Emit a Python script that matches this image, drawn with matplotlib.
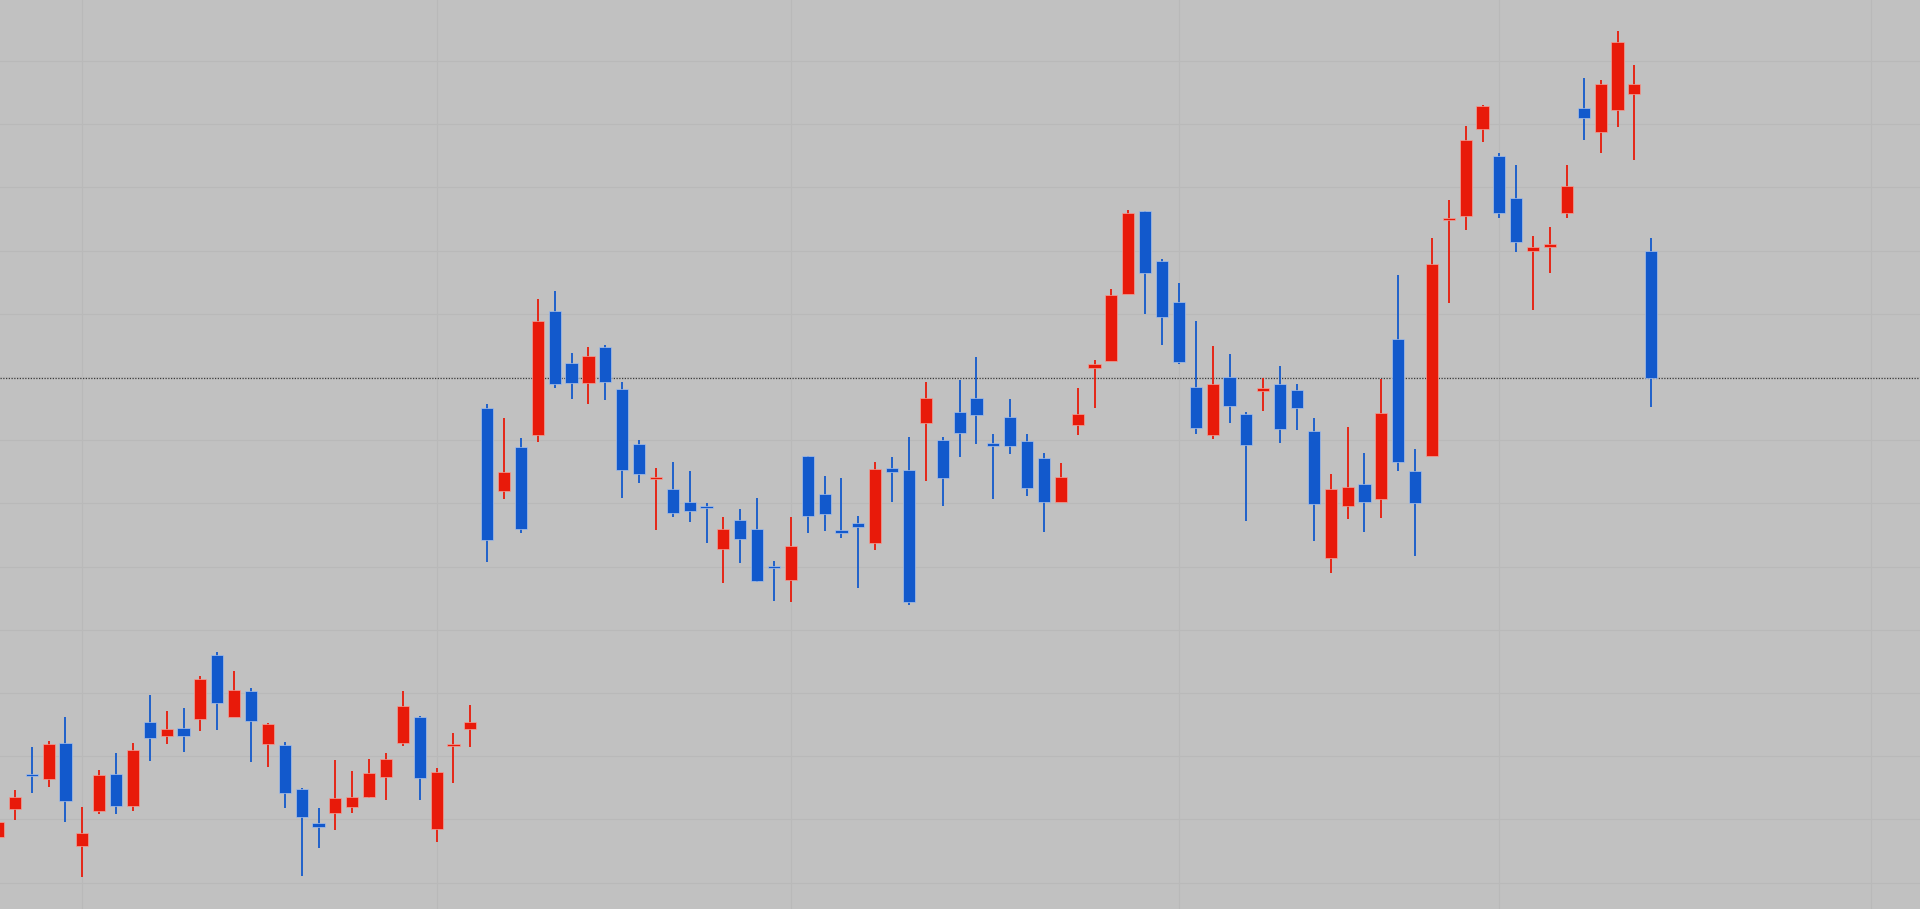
import numpy as np
import matplotlib
matplotlib.use("Agg")
import matplotlib.pyplot as plt

BG_COLOR = "#c1c1c1"
UP_COLOR = "#e81a0a"
DOWN_COLOR = "#1259cc"
UP_EDGE = "#f2a097"
DOWN_EDGE = "#a9c0e8"
GRID_COLOR = "#b9b9b9"

# daily OHLC (arbitrary price units)
opens = [163, 191, 225, 221, 257, 154, 189, 226, 194, 278,
         264, 272, 281, 345, 283, 309, 256, 255, 211, 177,
         187, 193, 203, 223, 257, 283, 171, 254, 271, 592,
         509, 553, 565, 689, 637, 617, 653, 611, 556, 521,
         511, 498, 494, 451, 480, 471, 433, 420, 544, 506,
         470, 477, 457, 532, 530, 577, 560, 588, 602, 557,
         583, 559, 542, 498, 575, 632, 639, 706, 789, 739,
         698, 613, 565, 623, 586, 609, 616, 610, 569, 442,
         494, 516, 501, 661, 529, 544, 780, 784, 871, 844,
         802, 749, 753, 787, 892, 868, 890, 906, 749]
highs = [183, 210, 253, 259, 283, 193, 230, 247, 257, 305,
         289, 292, 324, 348, 329, 312, 277, 258, 212, 192,
         240, 229, 241, 247, 309, 284, 232, 267, 295, 596,
         582, 562, 701, 709, 647, 653, 655, 618, 560, 532,
         538, 529, 497, 483, 491, 502, 439, 483, 544, 524,
         522, 484, 538, 543, 563, 618, 563, 620, 643, 566,
         601, 566, 547, 537, 612, 640, 711, 790, 789, 741,
         717, 679, 654, 646, 588, 622, 634, 616, 582, 526,
         573, 547, 621, 725, 551, 762, 800, 874, 895, 847,
         835, 764, 773, 835, 922, 920, 969, 935, 762]
lows = [158, 180, 207, 213, 178, 123, 186, 186, 189, 239,
        256, 248, 269, 270, 283, 238, 233, 192, 124, 152,
        170, 187, 202, 200, 254, 200, 158, 217, 253, 438,
        501, 467, 558, 612, 601, 596, 600, 502, 517, 470,
        483, 478, 457, 417, 437, 418, 399, 398, 467, 469,
        462, 412, 450, 498, 395, 519, 494, 543, 556, 501,
        546, 504, 468, 498, 565, 592, 639, 706, 686, 655,
        636, 566, 561, 577, 479, 589, 557, 570, 459, 427,
        481, 468, 482, 529, 444, 544, 697, 770, 858, 782,
        748, 690, 727, 782, 860, 847, 873, 840, 593]
closes = [178, 203, 224, 256, 199, 167, 225, 194, 250, 262,
          271, 264, 321, 297, 310, 279, 276, 207, 183, 173,
          202, 203, 227, 241, 294, 222, 228, 255, 278, 460,
          528, 471, 679, 616, 617, 644, 618, 530, 526, 523,
          487, 489, 492, 471, 461, 419, 432, 454, 484, 486,
          467, 473, 531, 528, 398, 602, 522, 567, 585, 554,
          554, 512, 498, 523, 586, 636, 705, 787, 727, 683,
          638, 572, 616, 594, 555, 612, 571, 592, 496, 511,
          513, 498, 587, 538, 497, 736, 781, 860, 894, 787,
          758, 753, 756, 814, 882, 916, 958, 916, 622]

# bar index where a vertical grid line falls (period boundaries)
vgrid_days = [6, 27, 48, 71, 90, 112]
hgrid_base = 623.0
hgrid_step = 63.2

BODY_WIDTH = 0.72
MIN_BODY = 1.6


def draw_candles(ax, o, h, l, c):
    o, h, l, c = map(np.asarray, (o, h, l, c))
    x = np.arange(1, len(o) + 1)
    up = c >= o
    colors = np.where(up, UP_COLOR, DOWN_COLOR)
    edges = np.where(up, UP_EDGE, DOWN_EDGE)
    ax.vlines(x, l, h, colors=colors, linewidth=1.3, zorder=3)
    bottom = np.minimum(o, c)
    height = np.maximum(np.abs(c - o), MIN_BODY)
    ax.bar(x, height, bottom=bottom, width=BODY_WIDTH, color=colors,
           edgecolor=edges, linewidth=0.5, zorder=4)
    return x


fig = plt.figure(figsize=(19.2, 9.09), dpi=100)
fig.patch.set_facecolor(BG_COLOR)
ax = fig.add_axes([0, 0, 1, 1])
ax.set_facecolor(BG_COLOR)

ax.set_xlim(1.12, 114.93)
ax.set_ylim(91, 1000)

for d in vgrid_days:
    ax.axvline(d, color=GRID_COLOR, linewidth=0.8, zorder=1)
for k in range(-9, 7):
    ax.axhline(hgrid_base + k * hgrid_step, color=GRID_COLOR, linewidth=0.8, zorder=1)

draw_candles(ax, opens, highs, lows, closes)

# last price line
ax.axhline(closes[-1], color="#3a3a3a", linewidth=0.9, linestyle=(0, (1, 1.2)), zorder=2)

ax.set_xticks([])
ax.set_yticks([])
for s in ax.spines.values():
    s.set_visible(False)

fig.savefig("out.png", dpi=100, facecolor=BG_COLOR)
